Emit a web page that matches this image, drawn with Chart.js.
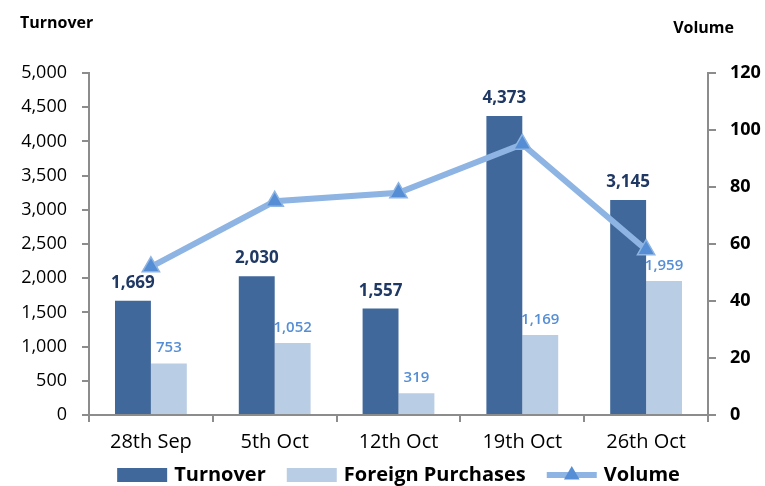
<!DOCTYPE html>
<html>
<head>
<meta charset="utf-8">
<script src="https://cdn.jsdelivr.net/npm/chart.js@4"></script>
<style>
  body { margin: 0; background: #fff; }
  canvas { display: block; }
</style>
</head>
<body>
<canvas id="turnoverChart" width="765" height="486"></canvas>
<script>
// chart data
const weeks = ["28th Sep", "5th Oct", "12th Oct", "19th Oct", "26th Oct"];
const turnover = [1669, 2030, 1557, 4373, 3145];
const foreignPurchases = [753, 1052, 319, 1169, 1959];
const volume = [52, 75, 78, 95, 58];
const turnoverTicks = [0, 500, 1000, 1500, 2000, 2500, 3000, 3500, 4000, 4500, 5000];
const volumeTicks = [0, 20, 40, 60, 80, 100, 120];

const FONT = "'Open Sans', sans-serif";
const fmt = (v) => v.toLocaleString("en-US");

// value labels above the bars
const barLabels = {
  id: "barLabels",
  afterDatasetDraw(chart, args) {
    if (args.index !== 1) return;
    drawLabels(chart, 1, "600 15px " + FONT, "#558ED5", 11);
  },
  afterDatasetsDraw(chart) {
    drawLabels(chart, 0, "bold 17px " + FONT, "#1F3864", 13);
  },
};

function drawLabels(chart, idx, font, color, gap) {
  const ctx = chart.ctx;
  const meta = chart.getDatasetMeta(idx);
  const values = chart.data.datasets[idx].data;
  ctx.save();
  ctx.font = font;
  ctx.fillStyle = color;
  ctx.textAlign = "center";
  ctx.textBaseline = "alphabetic";
  meta.data.forEach((bar, i) => {
    ctx.fillText(fmt(values[i]), bar.x, bar.y - gap);
  });
  ctx.restore();
}

// axis titles at the top corners
const axisTitles = {
  id: "axisTitles",
  afterDraw(chart) {
    const ctx = chart.ctx;
    ctx.save();
    ctx.font = "bold 16px " + FONT;
    ctx.fillStyle = "#000";
    ctx.textBaseline = "middle";
    ctx.textAlign = "left";
    ctx.fillText("Turnover", 20, 23);
    ctx.textAlign = "right";
    ctx.fillText("Volume", 734, 28);
    ctx.restore();
  },
};

// legend row drawn by hand so the line item keeps its line + marker
const bottomLegend = {
  id: "bottomLegend",
  afterDraw(chart) {
    const ctx = chart.ctx;
    const area = chart.chartArea;
    const ds = chart.data.datasets;
    const y = 475;
    const boxW = 50, gap = 7, spacing = 21;
    ctx.save();
    ctx.font = "bold 20px " + FONT;
    const widths = ds.map((d) => boxW + gap + ctx.measureText(d.label).width);
    const total = widths.reduce((a, b) => a + b, 0) + spacing * (ds.length - 1);
    let x = (area.left + area.right) / 2 - total / 2;
    ds.forEach((d, i) => {
      if (d.type === "line") {
        ctx.strokeStyle = d.borderColor;
        ctx.lineWidth = 6;
        ctx.beginPath();
        ctx.moveTo(x, y);
        ctx.lineTo(x + boxW, y);
        ctx.stroke();
        const cx = x + boxW / 2, r = 9;
        ctx.beginPath();
        ctx.moveTo(cx, y - r);
        ctx.lineTo(cx + r * 0.87, y + r * 0.5);
        ctx.lineTo(cx - r * 0.87, y + r * 0.5);
        ctx.closePath();
        ctx.fillStyle = d.pointBackgroundColor;
        ctx.fill();
      } else {
        ctx.fillStyle = d.backgroundColor;
        ctx.fillRect(x, y - 7, boxW, 14);
      }
      ctx.fillStyle = "#000";
      ctx.textBaseline = "middle";
      ctx.textAlign = "left";
      ctx.fillText(d.label, x + boxW + gap, y);
      x += widths[i] + spacing;
    });
    ctx.restore();
  },
};

const ctx = document.getElementById("turnoverChart").getContext("2d");
new Chart(ctx, {
  data: {
    labels: weeks,
    datasets: [
      {
        type: "bar",
        label: "Turnover",
        data: turnover,
        backgroundColor: "#40689A",
        yAxisID: "y",
        order: 1,
        categoryPercentage: 0.58,
        barPercentage: 1.0,
      },
      {
        type: "bar",
        label: "Foreign Purchases",
        data: foreignPurchases,
        backgroundColor: "#B9CDE5",
        yAxisID: "y",
        order: 2,
        categoryPercentage: 0.58,
        barPercentage: 1.0,
      },
      {
        type: "line",
        label: "Volume",
        data: volume,
        borderColor: "#8DB4E2",
        borderWidth: 6,
        pointStyle: "triangle",
        pointRadius: 10,
        pointBackgroundColor: "#558ED5",
        pointBorderColor: "#8DB4E2",
        pointBorderWidth: 1.5,
        tension: 0,
        yAxisID: "y1",
        order: 0,
      },
    ],
  },
  options: {
    responsive: false,
    animation: false,
    layout: { padding: { top: 73, left: 0, right: 0, bottom: 0 } },
    plugins: {
      legend: { display: false },
      tooltip: { enabled: false },
    },
    scales: {
      x: {
        offset: true,
        grid: {
          offset: true,
          drawOnChartArea: false,
          color: "#8C8C8C",
          tickLength: 7,
          lineWidth: 2,
        },
        border: { color: "#8C8C8C", width: 2 },
        ticks: { color: "#000", font: { family: FONT, size: 20 }, padding: 8 },
        afterFit(scale) { scale.height = 71; },
      },
      y: {
        position: "left",
        min: 0,
        max: 5000,
        afterBuildTicks(scale) { scale.ticks = turnoverTicks.map((v) => ({ value: v })); },
        grid: { drawOnChartArea: false, color: "#8C8C8C", tickLength: 7, lineWidth: 2 },
        border: { color: "#8C8C8C", width: 2 },
        ticks: {
          color: "#000",
          font: { family: FONT, size: 18 },
          padding: 15,
          callback: (v) => fmt(v),
        },
        afterFit(scale) { scale.width = 89; },
      },
      y1: {
        position: "right",
        min: 0,
        max: 120,
        afterBuildTicks(scale) { scale.ticks = volumeTicks.map((v) => ({ value: v })); },
        grid: { drawOnChartArea: false, color: "#8C8C8C", tickLength: 8, lineWidth: 2 },
        border: { color: "#8C8C8C", width: 2 },
        ticks: {
          color: "#000",
          font: { family: FONT, size: 18, weight: "bold" },
          padding: 14,
        },
        afterFit(scale) { scale.width = 57; },
      },
    },
  },
  plugins: [barLabels, axisTitles, bottomLegend],
});
</script>
</body>
</html>
